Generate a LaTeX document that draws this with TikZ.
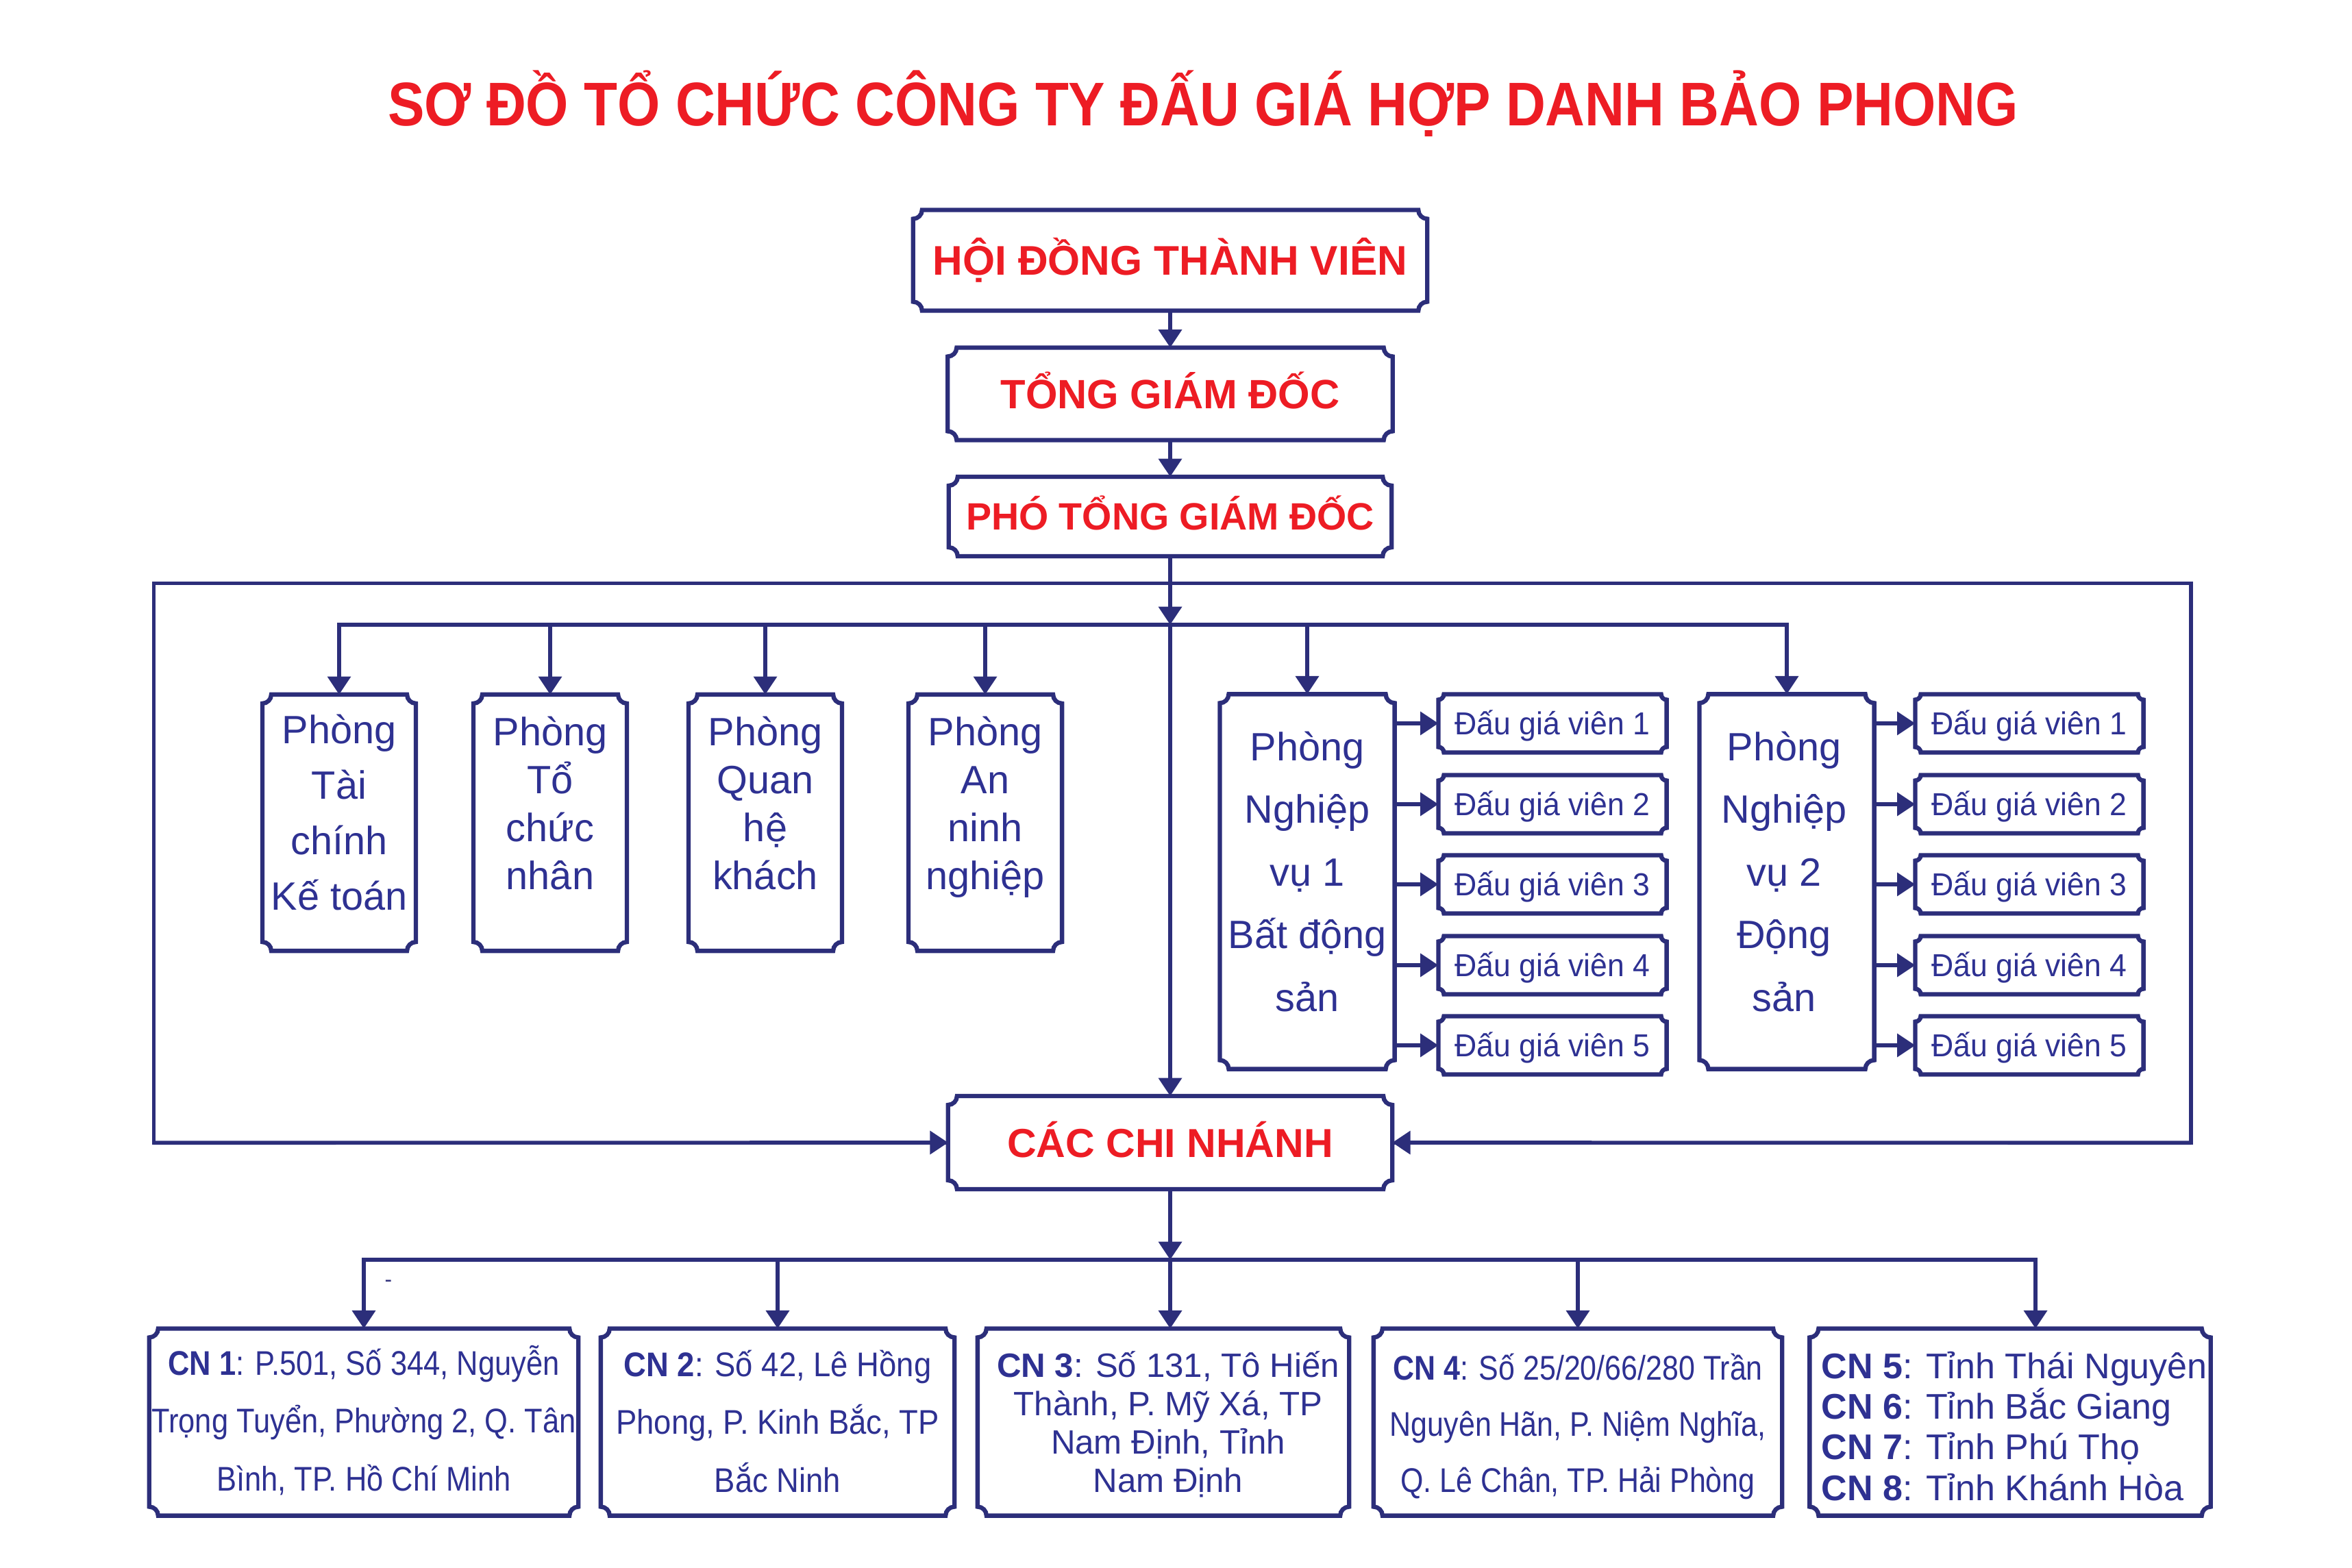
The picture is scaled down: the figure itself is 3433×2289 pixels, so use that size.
\documentclass[tikz,border=0pt]{standalone}
\usepackage{fontspec}
\setmainfont{Liberation Sans}
\newfontfamily\ttlfont[FakeStretch=0.89]{Liberation Sans}
\newfontfamily\cnA[FakeStretch=0.87]{Liberation Sans}
\newfontfamily\cnB[FakeStretch=0.91]{Liberation Sans}
\newfontfamily\cnD[FakeStretch=0.86]{Liberation Sans}
\newfontfamily\dgvfont[FakeStretch=0.96]{Liberation Sans}
\usetikzlibrary{arrows.meta}
\definecolor{navy}{RGB}{44,46,122}
\definecolor{tblue}{RGB}{46,49,146}
\definecolor{tred}{RGB}{237,28,36}
\newcommand\cbord[2][0.13cm]{%
\draw[bline] ([xshift=#1]#2.north west) -- ([xshift=-#1]#2.north east)
 arc[start angle=180,end angle=270,radius=#1]
 -- ([yshift=#1]#2.south east)
 arc[start angle=90,end angle=180,radius=#1]
 -- ([xshift=#1]#2.south west)
 arc[start angle=0,end angle=90,radius=#1]
 -- ([yshift=-#1]#2.north west)
 arc[start angle=270,end angle=360,radius=#1] -- cycle;}
\tikzset{
  bx/.style={fill=white,inner sep=0pt,outer sep=0pt},
  ln/.style={draw=navy,line width=1.6pt},
  arr/.style={ln,-{Triangle[width=9.5pt,length=7.5pt]}},
  bline/.style={draw=navy,line width=1.8pt},
  caps/.style={bx,text=tred,font=\bfseries\fontsize{16.5pt}{20pt}\selectfont,text height=11.8pt,text depth=0pt},
  pbox/.style={bx,minimum width=2.24cm,minimum height=3.74cm},
  nvbox/.style={bx,minimum width=2.55cm,minimum height=5.47cm},
  cnbox/.style={bx,minimum height=2.73cm},
  ptext/.style={text=tblue,align=center,anchor=base,inner sep=0pt},
  pfont/.style={font=\fontsize{16.4pt}{#1}\selectfont},
  dgv/.style={bx,minimum width=3.33cm,minimum height=0.85cm,text=tblue,font=\dgvfont\fontsize{13.2pt}{16pt}\selectfont,text height=9.45pt,text depth=0pt},
}
\begin{document}
\begin{tikzpicture}[x=0.01cm,y=-0.01cm]
\useasboundingbox (0,0) rectangle (3433,2289);
\fill[white] (0,0) rectangle (3433,2289);

% title
\node[anchor=base,text=tred,inner sep=0pt,font=\ttlfont\bfseries\fontsize{25.6pt}{30pt}\selectfont] (title) at (1756,184) {SƠ ĐỒ TỔ CHỨC CÔNG TY ĐẤU GIÁ HỢP DANH BẢO PHONG};

% outer frame
\node[draw=navy,line width=1.5pt,minimum width=29.72cm,minimum height=8.16cm,inner sep=0pt,outer sep=0pt] (frame) at (1711,1260) {};

% top chain
\node[caps,font=\bfseries\fontsize{17.2pt}{20pt}\selectfont,text height=12.3pt,minimum width=7.5cm,minimum height=1.47cm] (hdtv) at (1708,380) {HỘI ĐỒNG THÀNH VIÊN};
\node[caps,font=\bfseries\fontsize{17pt}{20pt}\selectfont,text height=12.2pt,minimum width=6.49cm,minimum height=1.35cm] (tgd) at (1708,575) {TỔNG GIÁM ĐỐC};
\node[caps,font=\bfseries\fontsize{15.8pt}{19pt}\selectfont,text height=11.3pt,minimum width=6.46cm,minimum height=1.16cm] (pho) at (1708,754) {PHÓ TỔNG GIÁM ĐỐC};

% departments
\node[pbox] (tckt) at (495,1201) {};
\node[pbox] (tcns) at (803,1201) {};
\node[pbox] (qhkh) at (1117,1201) {};
\node[pbox] (annn) at (1438,1201) {};
\node[nvbox] (nv1) at (1908,1287) {};
\node[nvbox] (nv2) at (2608,1287) {};

\node[ptext,pfont=23pt] (tckt-t) at (495,1328) {Phòng\\Tài\\chính\\Kế toán};
\node[ptext,pfont=19.9pt] (tcns-t) at (803,1298) {Phòng\\Tổ\\chức\\nhân};
\node[ptext,pfont=19.9pt] (qhkh-t) at (1117,1298) {Phòng\\Quan\\hệ\\khách};
\node[ptext,pfont=19.9pt] (annn-t) at (1438,1298) {Phòng\\An\\ninh\\nghiệp};
\node[ptext,pfont=26pt] (nv1-t) at (1908,1476) {Phòng\\Nghiệp\\vụ 1\\Bất động\\sản};
\node[ptext,pfont=26pt] (nv2-t) at (2604,1476) {Phòng\\Nghiệp\\vụ 2\\Động\\sản};

% auctioneers
\foreach \i/\y in {1/1056,2/1174,3/1291,4/1409,5/1526}{
  \node[dgv] (d1\i) at (2266,\y) {Đấu giá viên \i};
  \node[dgv] (d2\i) at (2962,\y) {Đấu giá viên \i};
}

% branches
\node[caps,font=\bfseries\fontsize{16.8pt}{20pt}\selectfont,text height=12pt,minimum width=6.48cm,minimum height=1.36cm] (ccn) at (1708,1668) {CÁC CHI NHÁNH};

\node[cnbox,minimum width=6.26cm] (cn1) at (531,2076) {};
\node[cnbox,minimum width=5.16cm] (cn2) at (1135,2076) {};
\node[cnbox,minimum width=5.42cm] (cn3) at (1698,2076) {};
\node[cnbox,minimum width=5.96cm] (cn4) at (2303,2076) {};
\node[cnbox,minimum width=5.85cm] (cn5) at (2934,2076) {};

\node[ptext,font=\cnA\fontsize{14.2pt}{24pt}\selectfont] (cn1-t) at (531,2176) {\textbf{CN 1}: P.501, Số 344, Nguyễn\\Trọng Tuyển, Phường 2, Q. Tân\\Bình, TP. Hồ Chí Minh};
\node[ptext,font=\cnB\fontsize{14.2pt}{24pt}\selectfont] (cn2-t) at (1135,2178) {\textbf{CN 2}: Số 42, Lê Hồng\\Phong, P. Kinh Bắc, TP\\Bắc Ninh};
\node[ptext,font=\fontsize{14pt}{15.85pt}\selectfont] (cn3-t) at (1705,2178) {\textbf{CN 3}: Số 131, Tô Hiến\\Thành, P. Mỹ Xá, TP\\Nam Định, Tỉnh\\Nam Định};
\node[ptext,font=\cnD\fontsize{14.2pt}{23.3pt}\selectfont] (cn4-t) at (2303,2178) {\textbf{CN 4}: Số 25/20/66/280 Trần\\Nguyên Hãn, P. Niệm Nghĩa,\\Q. Lê Chân, TP. Hải Phòng};
\node[ptext,align=left,anchor=base west,font=\fontsize{14.8pt}{16.8pt}\selectfont] (cn5-t) at (2658,2190) {\textbf{CN 5}: Tỉnh Thái Nguyên\\\textbf{CN 6}: Tỉnh Bắc Giang\\\textbf{CN 7}: Tỉnh Phú Thọ\\\textbf{CN 8}: Tỉnh Khánh Hòa};

% concave-corner borders
\foreach \n in {hdtv,tgd,pho,tckt,tcns,qhkh,annn,nv1,nv2,ccn,cn1,cn2,cn3,cn4,cn5}{\cbord{\n}}
\foreach \i in {1,...,5}{\cbord[0.08cm]{d1\i}\cbord[0.08cm]{d2\i}}

% connectors
\coordinate (j1) at (1708,912);
\coordinate (j2) at (1708,1839);
\coordinate (a5) at (2971,1839);
\draw[arr] (hdtv.south) -- (tgd.north);
\draw[arr] (tgd.south) -- (pho.north);
\draw[arr] (pho.south) -- (j1);
\draw[arr] (j1) -- (ccn.north);
\foreach \n in {tckt,tcns,qhkh,annn,nv1,nv2}{\draw[arr] (j1) -| (\n.north);}
\foreach \i in {1,...,5}{
  \draw[arr] (nv1.east |- d1\i) -- (d1\i.west);
  \draw[arr] (nv2.east |- d2\i) -- (d2\i.west);
}
\draw[arr] (frame.south west) -- (ccn.west);
\draw[arr] (frame.south east) -- (ccn.east);
\draw[arr] (ccn.south) -- (j2);
\draw[arr] (j2) -| (cn1.north);
\draw[arr] (j2) -| (cn2.north);
\draw[arr] (j2) -- (j2 |- cn3.north);
\draw[arr] (j2) -| (cn4.north);
\draw[arr] (j2) -| (a5 |- cn5.north);

\node[text=navy,inner sep=0pt,font=\fontsize{9pt}{10pt}\selectfont] (dash) at (567,1874) {-};
\end{tikzpicture}
\end{document}
